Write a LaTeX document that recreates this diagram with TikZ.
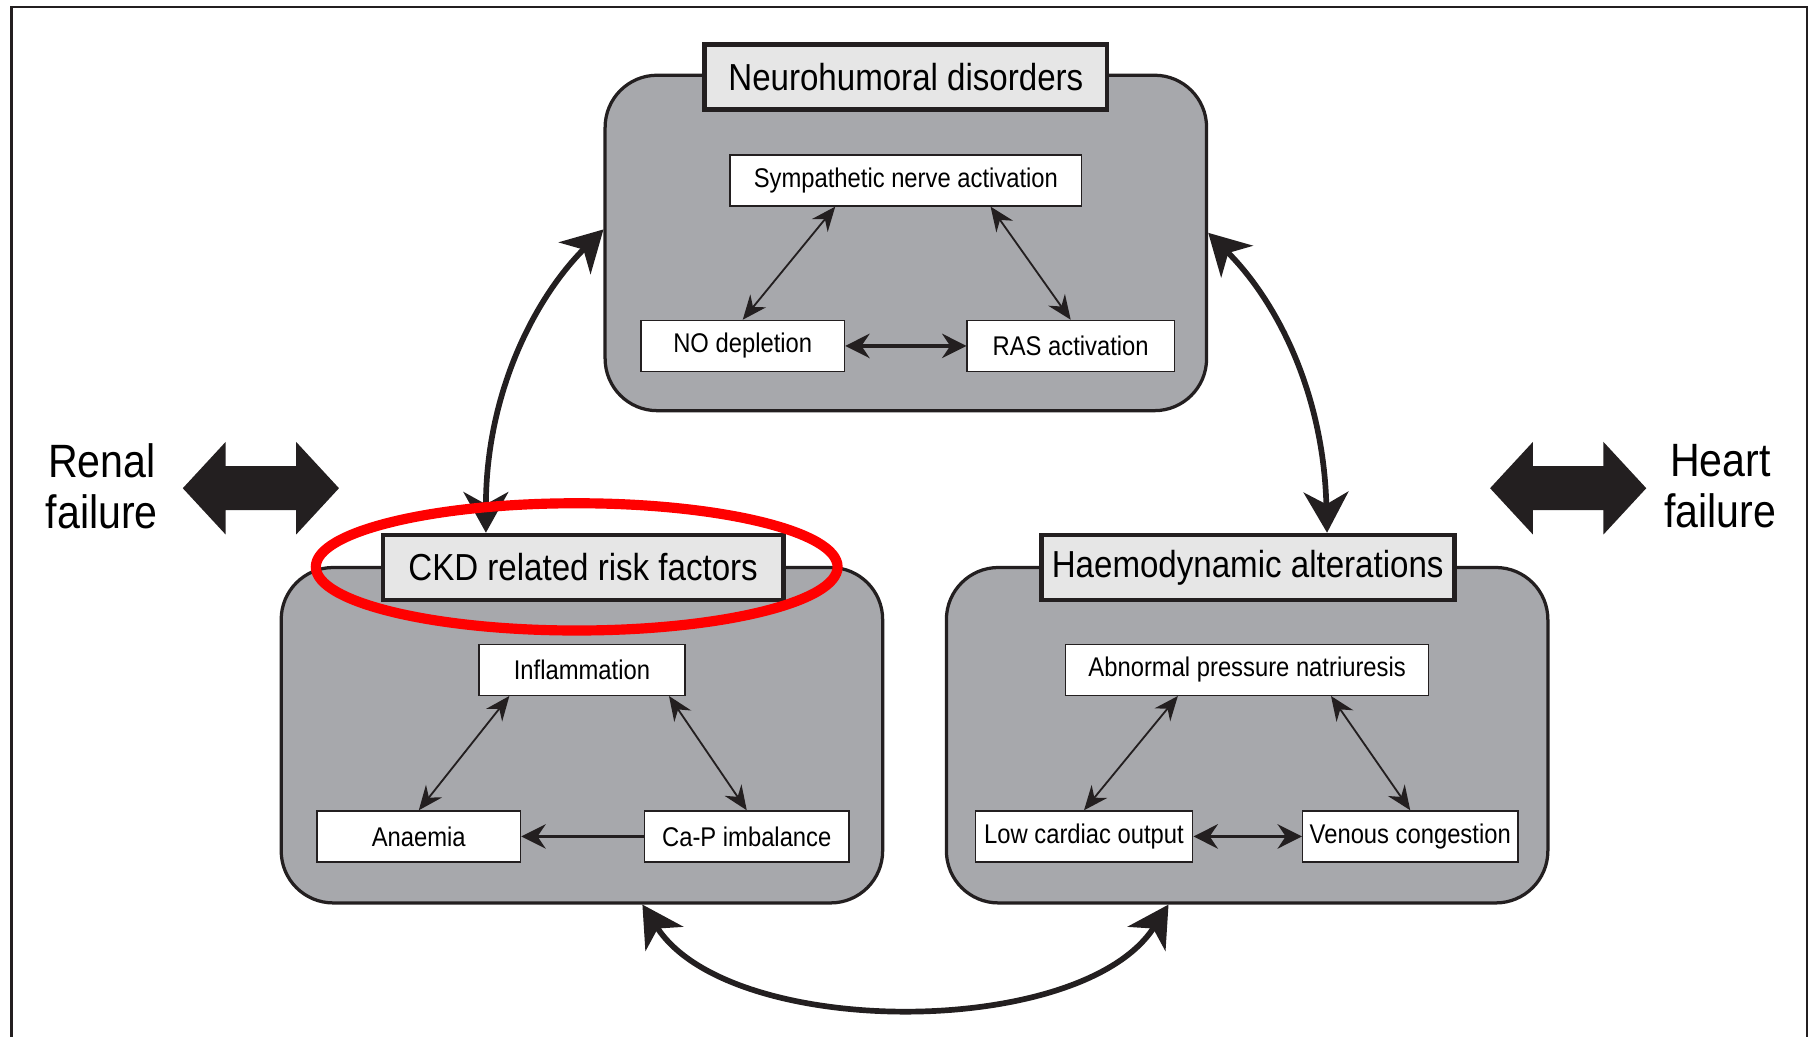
\documentclass[tikz,border=0pt]{standalone}
\usepackage{fontspec}
\setmainfont{Liberation Sans}[FakeStretch=0.88]
\usetikzlibrary{arrows.meta,calc}
\definecolor{boxgray}{RGB}{167,168,172}
\definecolor{titlegray}{RGB}{230,230,230}
\definecolor{ink}{RGB}{35,31,32}

\begin{document}
\begin{tikzpicture}[x=0.02cm,y=-0.02cm,
		panel/.style={draw=ink,line width=1.6pt,fill=boxgray,rounded corners=0.9cm,minimum width=10.4cm,minimum height=5.8cm,inner sep=0pt},
		headbox/.style={draw=ink,line width=2.3pt,fill=titlegray,minimum height=1.12cm,inner sep=0pt,font=\fontsize{18.5}{20}\selectfont},
		factor/.style={draw=ink,line width=0.7pt,fill=white,minimum height=0.88cm,inner sep=0pt,font=\fontsize{13.3}{16}\selectfont},
		link/.style={draw=ink,line width=0.9pt,{Stealth[length=12pt,width=10pt,inset=4pt]}-{Stealth[length=12pt,width=10pt,inset=4pt]}},
		hlink/.style={draw=ink,line width=1.6pt,{Stealth[length=12pt,width=12pt,inset=4pt]}-{Stealth[length=12pt,width=12pt,inset=4pt]}},
		bigarrow/.style={draw=ink,line width=2.8pt,{Stealth[length=20pt,width=22pt,inset=6pt]}-{Stealth[length=20pt,width=22pt,inset=6pt]}},
		side/.style={align=center,font=\fontsize{23}{25}\selectfont}]
			\useasboundingbox (0,0) rectangle (1568,896);
			\draw[ink,line width=1.1pt] (10,896) -- (10,6) -- (1562,6) -- (1562,896);
			% three panels
			\node[panel] (neuro) at (783,210) {};
			\node[panel] (ckd) at (503,635.5) {};
			\node[panel] (haemo) at (1078,635.5) {};
			\node[headbox,minimum width=6.96cm] (neurotitle) at (783,66.5) {Neurohumoral disorders};
			\node[headbox,minimum width=6.92cm] (ckdtitle) at (504,490.5) {CKD related risk factors};
			\node[headbox,minimum width=7.14cm] (haemotitle) at (1078.5,490.5) {Haemodynamic alterations};
			% neurohumoral
			\node[factor,minimum width=6.08cm] (symp) at (783,156) {Sympathetic nerve activation};
			\node[factor,minimum width=3.52cm] (nodep) at (642,299) {NO depletion};
			\node[factor,minimum width=3.58cm] (ras) at (925.5,299) {RAS activation};
			\draw[link] ($(symp.south west)!0.3!(symp.south east)$) -- (nodep.north);
			\draw[link] ($(symp.south west)!0.74!(symp.south east)$) -- (ras.north);
			\draw[hlink] (nodep) -- (ras);
			% ckd
			\node[factor,minimum width=3.56cm] (infl) at (503,579) {Inflammation};
			\node[factor,minimum width=3.52cm] (anaemia) at (362,723) {Anaemia};
			\node[factor,minimum width=3.54cm] (cap) at (645.5,723) {Ca-P imbalance};
			\draw[link] ($(infl.south west)!0.15!(infl.south east)$) -- (anaemia.north);
			\draw[link] ($(infl.south west)!0.92!(infl.south east)$) -- (cap.north);
			\draw[draw=ink,line width=1.4pt,-{Stealth[length=12pt,width=12pt,inset=4pt]}] (cap) -- (anaemia);
			% haemodynamic
			\node[factor,minimum width=6.28cm] (apn) at (1078,579) {Abnormal pressure natriuresis};
			\node[factor,minimum width=3.76cm] (lco) at (937,723) {Low cardiac output};
			\node[factor,minimum width=3.72cm] (venous) at (1219,723) {Venous congestion};
			\draw[link] ($(apn.south west)!0.31!(apn.south east)$) -- (lco.north);
			\draw[link] ($(apn.south west)!0.73!(apn.south east)$) -- (venous.north);
			\draw[hlink] (lco) -- (venous);
			% links between panels
			\draw[bigarrow] ($(ckdtitle.north west)!0.26!(ckdtitle.north east)$) .. controls +(0,-120) and +(-60,60) .. ($(neuro.north west)!0.46!(neuro.south west)$);
			\draw[bigarrow] ($(neuro.north east)!0.47!(neuro.south east)$) .. controls +(60,60) and +(-3,-120) .. ($(haemotitle.north west)!0.69!(haemotitle.north east)$);
			\draw[bigarrow] ($(ckd.south west)!0.6!(ckd.south east)$) .. controls +(75,117) and +(-75,117) .. ($(haemo.south west)!0.37!(haemo.south east)$);
			% renal and heart failure
			\node[side] (renal) at (88,420) {Renal\\failure};
			\node[side] (heart) at (1487,420) {Heart\\failure};
			\foreach \dx in {0,1130}
				\fill[ink,xshift=\dx*0.02cm] (158,422) -- (195,382) -- (195,403) -- (256,403) -- (256,382) -- (293,422) -- (256,462) -- (256,441) -- (195,441) -- (195,462) -- cycle;
			% highlight
			\draw[red,line width=5pt] (498.5,490) ellipse (225.5 and 55);
		\end{tikzpicture}
\end{document}
